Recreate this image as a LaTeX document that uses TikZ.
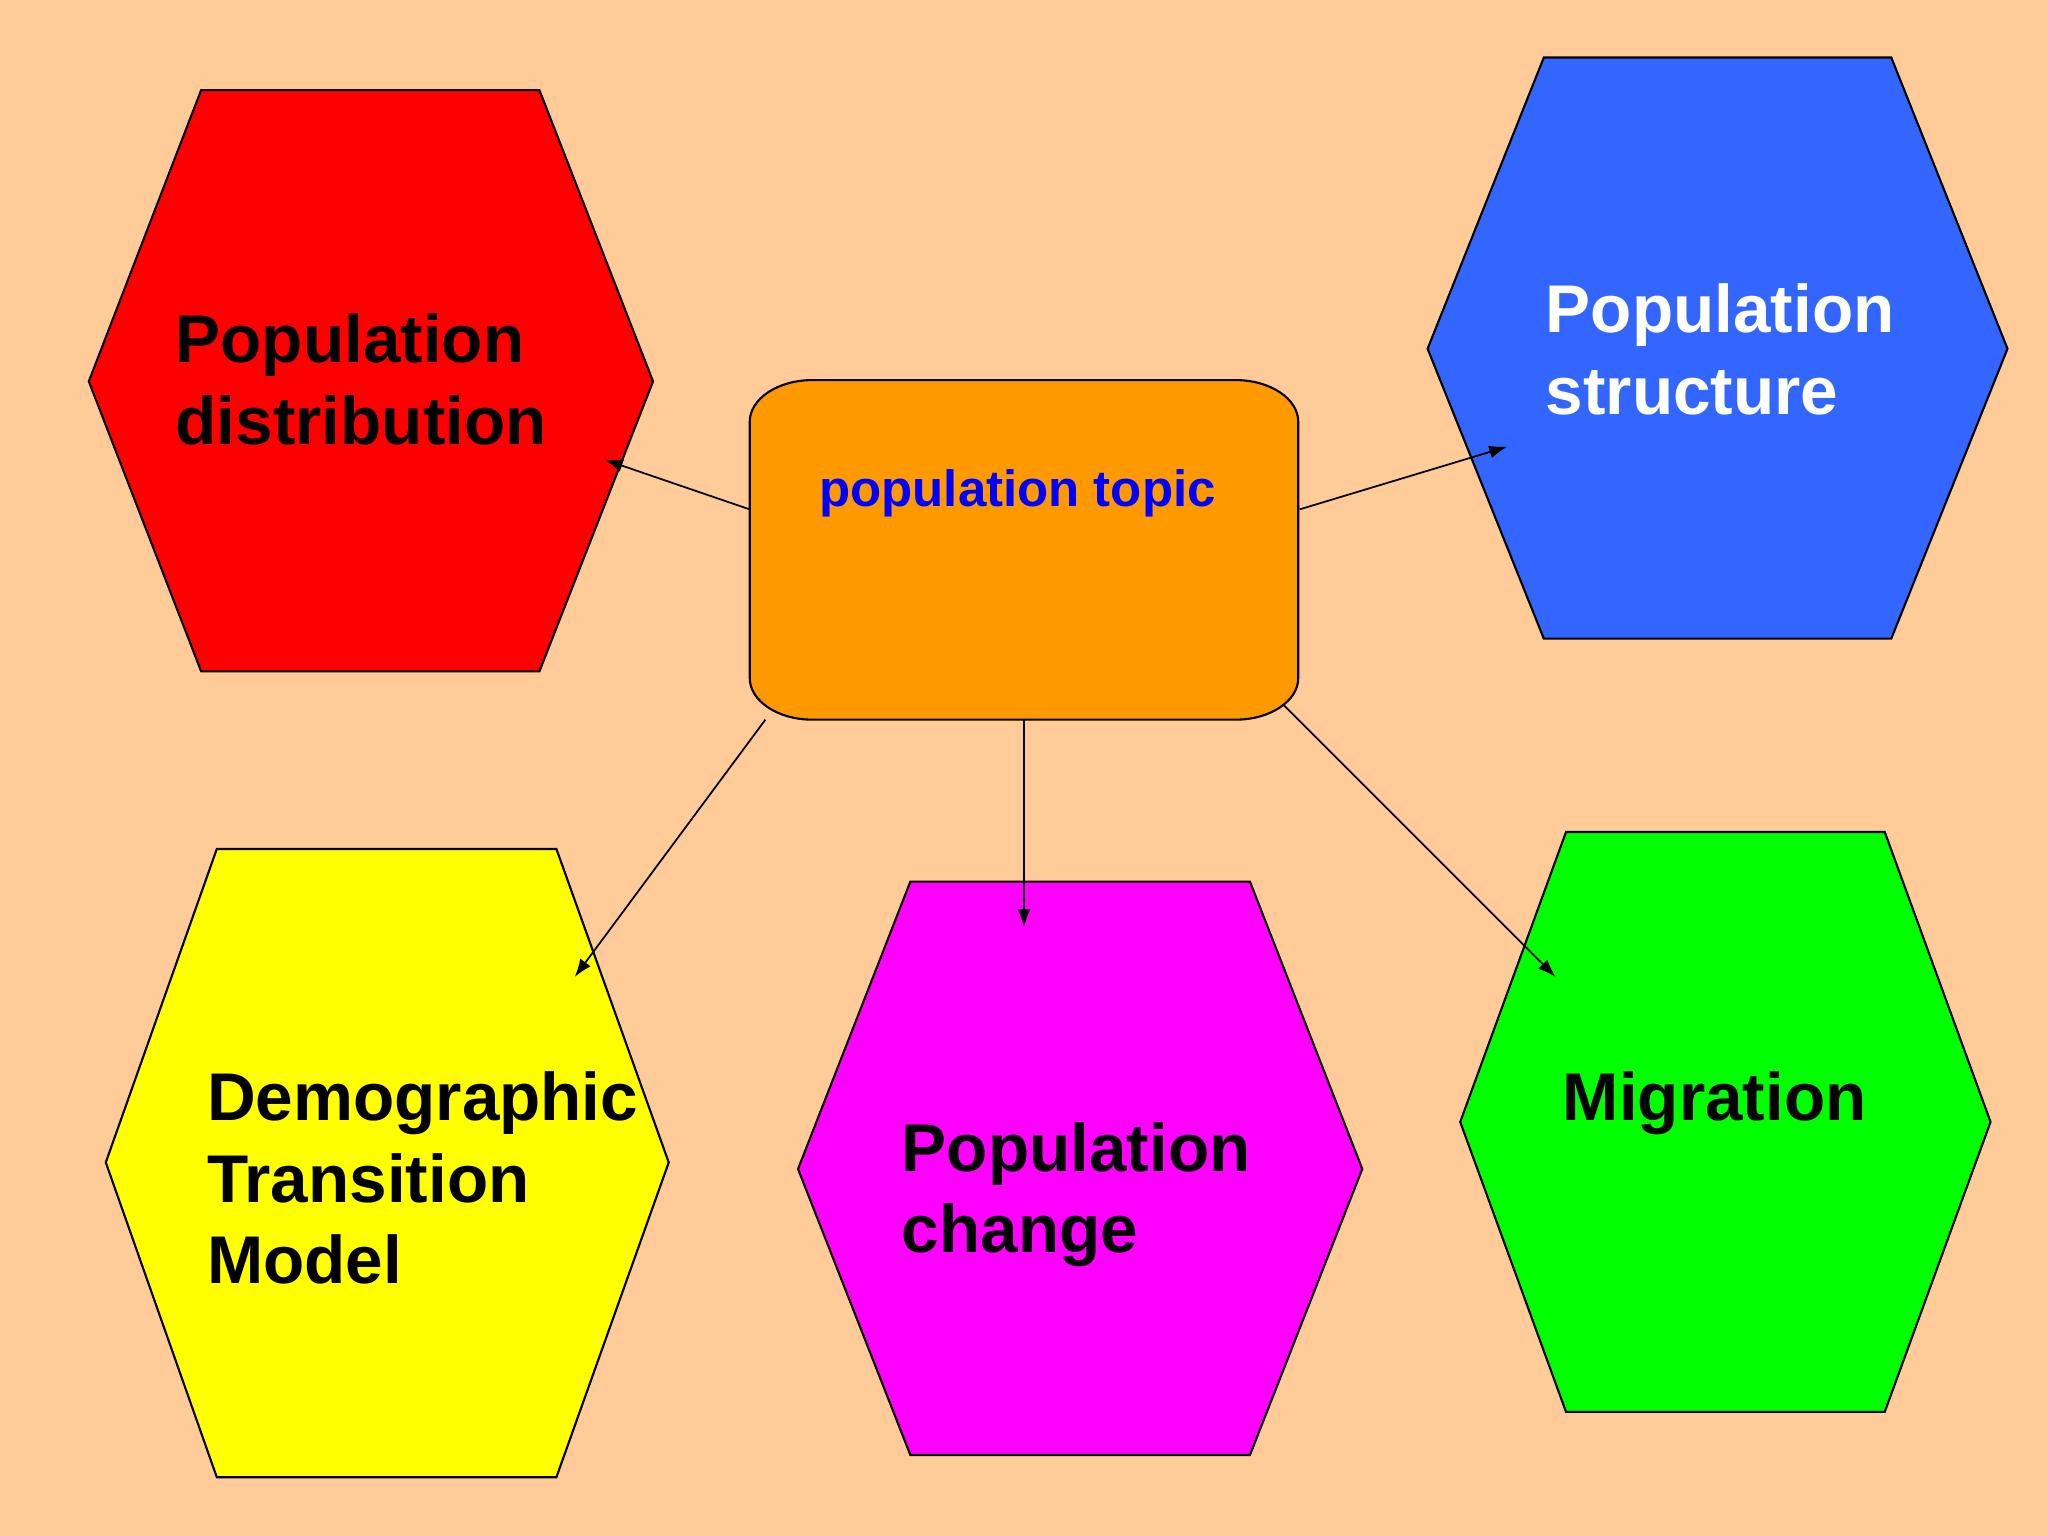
\documentclass[tikz,border=0pt]{standalone}
\usepackage{fontspec}
\setmainfont{Liberation Sans}
\usetikzlibrary{arrows.meta}
\definecolor{bgpeach}{HTML}{FFCC99}
\definecolor{hred}{HTML}{FF0000}
\definecolor{hblue}{HTML}{3366FF}
\definecolor{horange}{HTML}{FF9900}
\definecolor{hyellow}{HTML}{FFFF00}
\definecolor{hmagenta}{HTML}{FF00FF}
\definecolor{hgreen}{HTML}{00FF00}
\definecolor{topicblue}{HTML}{0000FF}
\begin{document}
\begin{tikzpicture}[x=0.013061cm,y=-0.013061cm,
  hexa/.style={draw=black,line width=0.6pt},
  lbl/.style={anchor=base west,align=left,inner sep=0pt,font=\fontsize{19.2}{23.2}\selectfont\bfseries},
  conn/.style={-{Latex[length=1.8mm,width=1.3mm]},line width=0.5pt}]
\fill[bgpeach] (0,0) rectangle (1568,1176);
\useasboundingbox (0,0) rectangle (1568,1176);
% hexagons
\filldraw[hexa,fill=hred] (154,69) -- (413,69) -- (500,292) -- (413,514) -- (154,514) -- (68,292) -- cycle;
\filldraw[hexa,fill=hblue] (1182,44) -- (1448,44) -- (1537,267) -- (1448,489) -- (1182,489) -- (1093,267) -- cycle;
\filldraw[hexa,fill=hyellow] (166,650) -- (426,650) -- (512,890) -- (426,1131) -- (166,1131) -- (81,890) -- cycle;
\filldraw[hexa,fill=hmagenta] (697,675) -- (957,675) -- (1043,895) -- (957,1114) -- (697,1114) -- (611,895) -- cycle;
\filldraw[hexa,fill=hgreen] (1199,637) -- (1443,637) -- (1524,859) -- (1443,1081) -- (1199,1081) -- (1118,859) -- cycle;
% central box
\filldraw[hexa,fill=horange] (622,291) -- (946,291) .. controls (972.5,291) and (994,305.3) .. (994,323)
  -- (994,519) .. controls (994,536.7) and (972.5,551) .. (946,551)
  -- (622,551) .. controls (595.5,551) and (574,536.7) .. (574,519)
  -- (574,323) .. controls (574,305.3) and (595.5,291) .. cycle;
\node[anchor=base,inner sep=0pt,font=\fontsize{14.5}{17}\selectfont\bfseries,text=topicblue] (topic) at (779,388) {population topic};
% labels (anchor = baseline of the last line)
\node[lbl] (dist) at (134,340) {Population\\distribution};
\node[lbl,text=white] (struct) at (1183,317) {Population\\structure};
\node[lbl] (dtm) at (158,983) {Demographic\\Transition\\Model};
\node[lbl] (change) at (690,959) {Population\\change};
\node[lbl] (migr) at (1196,858) {Migration};
% connector ends
\coordinate (s1) at (574,390);
\coordinate (e1) at (463,352);
\coordinate (s2) at (995,390);
\coordinate (e2) at (1154,342);
\coordinate (s3) at (586,551);
\coordinate (e3) at (440,748);
\coordinate (s4) at (784,551);
\coordinate (e4) at (784,710);
\coordinate (s5) at (983,540);
\coordinate (e5) at (1191,748);
\draw[conn] (s1) -- (e1);
\draw[conn] (s2) -- (e2);
\draw[conn] (s3) -- (e3);
\draw[conn] (s4) -- (e4);
\draw[conn] (s5) -- (e5);
\end{tikzpicture}
\end{document}
